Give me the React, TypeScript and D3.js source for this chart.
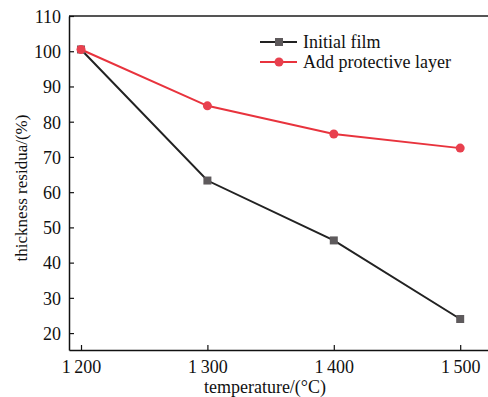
import React, { useEffect, useRef } from 'react';
import * as d3 from 'd3';

const temps = [1200, 1300, 1400, 1500];
const initialFilm = [100.5, 63.3, 46.3, 24.0];
const protectiveLayer = [100.5, 84.5, 76.5, 72.5];
const yTicks = [20, 30, 40, 50, 60, 70, 80, 90, 100, 110];
const seriesNames = ['Initial film', 'Add protective layer'];

const W = 488, H = 397;

export default function App() {
    const ref = useRef<SVGSVGElement>(null);

    useEffect(() => {
        const svg = d3.select(ref.current);
        svg.selectAll('*').remove();

        const left = 69, right = 488, top = 16, bottom = 350;
        const font = '"Liberation Serif", "DejaVu Serif", serif';

        const x = d3.scaleLinear().domain([1190.5, 1522]).range([left, right]);
        const y = d3.scaleLinear().domain([15.2, 110]).range([bottom, top]);

        // top frame line
        svg.append('line')
            .attr('x1', left).attr('x2', right)
            .attr('y1', top).attr('y2', top)
            .attr('stroke', '#555').attr('stroke-width', 2);

        const xAxis = d3.axisBottom(x)
            .tickValues(temps)
            .tickSizeInner(-5)
            .tickSizeOuter(0)
            .tickPadding(10)
            .tickFormat(d => {
                const s = String(d);
                return s.slice(0, 1) + '\u2009' + s.slice(1);
            });

        const yAxis = d3.axisLeft(y)
            .tickValues(yTicks)
            .tickSizeInner(-5)
            .tickSizeOuter(0)
            .tickPadding(8);

        const gx = svg.append('g')
            .attr('transform', 'translate(0,' + bottom + ')')
            .call(xAxis);
        const gy = svg.append('g')
            .attr('transform', 'translate(' + left + ',0)')
            .call(yAxis);

        [gx, gy].forEach(g => {
            g.select('.domain').attr('stroke', '#111').attr('stroke-width', 1.5);
            g.selectAll('.tick line').attr('stroke', '#111').attr('stroke-width', 1.2);
            g.selectAll('.tick text')
                .attr('fill', '#111')
                .style('font-family', font)
                .style('font-size', '18px');
        });
        gy.selectAll('.tick text').attr('dy', '0.35em');

        // axis titles
        svg.append('text')
            .attr('x', 265).attr('y', 393)
            .attr('text-anchor', 'middle')
            .style('font-family', font).style('font-size', '18px')
            .attr('fill', '#111')
            .text('temperature/(\u00b0C)');

        svg.append('text')
            .attr('transform', 'translate(27,188) rotate(-90)')
            .attr('text-anchor', 'middle')
            .style('font-family', font).style('font-size', '17px')
            .attr('fill', '#111')
            .text('thickness residua/(%)');

        const line = d3.line<number>()
            .x((d, i) => x(temps[i]))
            .y(d => y(d));

        // red series
        svg.append('path')
            .datum(protectiveLayer)
            .attr('d', line)
            .attr('fill', 'none')
            .attr('stroke', '#e8333d')
            .attr('stroke-width', 2);

        // black series
        svg.append('path')
            .datum(initialFilm)
            .attr('d', line)
            .attr('fill', 'none')
            .attr('stroke', '#222')
            .attr('stroke-width', 2);

        svg.selectAll('.sq')
            .data(initialFilm)
            .enter()
            .append('rect')
            .attr('x', (d, i) => x(temps[i]) - 4)
            .attr('y', d => y(d) - 4)
            .attr('width', 8).attr('height', 8)
            .attr('fill', '#5e5a5c');

        svg.selectAll('.dot')
            .data(protectiveLayer)
            .enter()
            .append('circle')
            .attr('cx', (d, i) => x(temps[i]))
            .attr('cy', d => y(d))
            .attr('r', 4.5)
            .attr('fill', '#e8404e');

        // legend
        const legend = svg.append('g').attr('transform', 'translate(260,42)');
        seriesNames.forEach((name, i) => {
            const row = legend.append('g').attr('transform', 'translate(0,' + i * 20 + ')');
            row.append('line')
                .attr('x1', 0).attr('x2', 37)
                .attr('y1', 0).attr('y2', 0)
                .attr('stroke', i === 0 ? '#222' : '#e8333d')
                .attr('stroke-width', 2);
            if (i === 0) {
                row.append('rect').attr('x', 15).attr('y', -4)
                    .attr('width', 8).attr('height', 8).attr('fill', '#5e5a5c');
            } else {
                row.append('circle').attr('cx', 19).attr('cy', 0)
                    .attr('r', 4.5).attr('fill', '#e8404e');
            }
            row.append('text')
                .attr('x', 43).attr('y', 5.5)
                .style('font-family', font).style('font-size', '18px')
                .attr('fill', '#111')
                .text(name);
        });
    }, []);

    return (
        <svg ref={ref} width={W} height={H}
            style={{ position: 'absolute', left: 0, top: 0, background: '#fff' }} />
    );
}
